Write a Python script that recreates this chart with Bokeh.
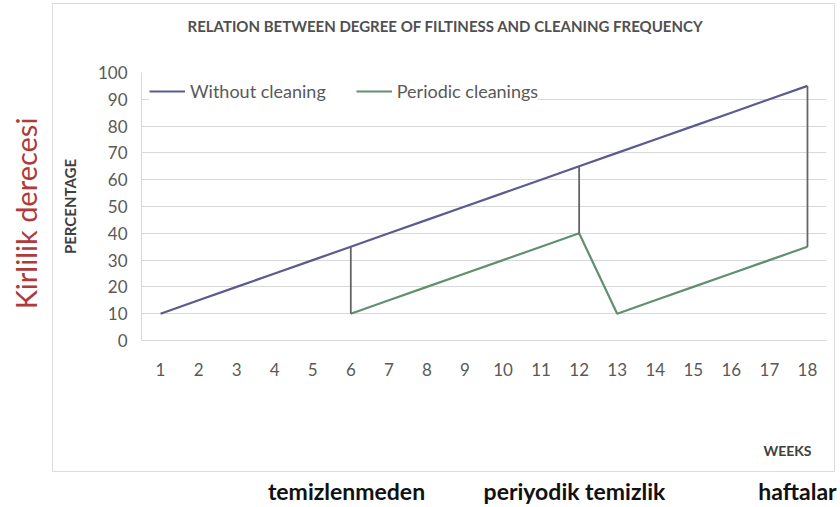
from bokeh.plotting import figure
from bokeh.models import (Range1d, FixedTicker, Legend, LegendItem, LinearAxis,
                          InlineStyleSheet)
from bokeh.embed import file_html
from bokeh.resources import INLINE

# ---- data ----
weeks = [1, 2, 3, 4, 5, 6, 7, 8, 9, 10, 11, 12, 13, 14, 15, 16, 17, 18]
without_cleaning = [10, 15, 20, 25, 30, 35, 40, 45, 50, 55, 60, 65, 70, 75, 80, 85, 90, 95]
periodic_weeks = [6, 7, 8, 9, 10, 11, 12, 13, 14, 15, 16, 17, 18]
periodic_cleanings = [10, 15, 20, 25, 30, 35, 40, 10, 15, 20, 25, 30, 35]
cleaning_weeks = [6, 12, 18]
cleaning_low = [10, 40, 35]
cleaning_high = [35, 65, 95]
y_ticks = [0, 10, 20, 30, 40, 50, 60, 70, 80, 90, 100]
grid_ticks = [0, 10, 20, 30, 40, 50, 60, 70, 80, 90]

title_text = "RELATION BETWEEN DEGREE OF FILTINESS AND CLEANING FREQUENCY"
y_title = "PERCENTAGE"
side_title = "Kirlilik derecesi"
weeks_title = "WEEKS"
turkish_labels = ["temizlenmeden", "periyodik temizlik", "haftalar"]

FONT = "Lato"
GRAY = "#595959"

p = figure(width=840, height=507, x_range=Range1d(0.5, 18.5),
           y_range=Range1d(0, 100), output_backend="svg", toolbar_location=None,
           min_border_left=141, min_border_right=14, min_border_top=72,
           min_border_bottom=167)
p.outline_line_color = None
p.background_fill_color = "white"
p.border_fill_color = "white"
# pixel-like helper ranges used only to place the chart's text annotations
p.extra_x_ranges = {"px": Range1d(141, 826)}
p.extra_y_ranges = {"py": Range1d(340, 72)}

# main axes
p.xaxis.ticker = FixedTicker(ticks=weeks)
p.yaxis.ticker = FixedTicker(ticks=y_ticks)
for ax in (p.xaxis[0], p.yaxis[0]):
    ax.axis_line_color = "#d9d9d9"
    ax.major_tick_line_color = None
    ax.minor_tick_line_color = None
    ax.major_label_text_font = FONT
    ax.major_label_text_font_size = "17px"
    ax.major_label_text_color = GRAY
p.yaxis.major_label_standoff = 8
p.xaxis.major_label_standoff = 16
p.yaxis.axis_label = y_title
p.yaxis.axis_label_standoff = 16
p.yaxis.axis_label_text_font = FONT
p.yaxis.axis_label_text_font_size = "15px"
p.yaxis.axis_label_text_font_style = "bold"
p.yaxis.axis_label_text_color = "#404040"
p.xgrid.grid_line_color = None
p.ygrid.ticker = FixedTicker(ticks=grid_ticks)
p.ygrid.grid_line_color = "#d9d9d9"
p.ygrid.grid_line_width = 1

# lines
r1 = p.line(weeks, without_cleaning, line_color="#5c5a8e", line_width=2.2)
r2 = p.line(periodic_weeks, periodic_cleanings, line_color="#5f9070", line_width=2.2)
p.segment(x0=cleaning_weeks, y0=cleaning_low, x1=cleaning_weeks, y1=cleaning_high,
          line_color="#666666", line_width=1.8)


def text_axis(kind, place, range_name, tick, label, size, color, style, standoff,
              orientation="horizontal"):
    kw = {"x_range_name": range_name} if kind == "x" else {"y_range_name": range_name}
    ax = LinearAxis(ticker=FixedTicker(ticks=list(tick)),
                    major_label_overrides=dict(zip(tick, label)), **kw)
    ax.axis_line_color = None
    ax.major_tick_line_color = None
    ax.minor_tick_line_color = None
    ax.major_label_text_font = FONT
    ax.major_label_text_font_size = size
    ax.major_label_text_color = color
    ax.major_label_text_font_style = style
    ax.major_label_standoff = standoff
    ax.major_label_orientation = orientation
    p.add_layout(ax, place)
    return ax


# title (above)
text_axis("x", "above", "px", [445], [title_text], "15px", "#505050", "bold", 32)
# red side title (left, outside PERCENTAGE)
text_axis("y", "left", "py", [213], [side_title], "29px", "#b03a3a", "normal", 9,
          orientation="vertical")

# bottom rows: WEEKS and Turkish captions
text_axis("x", "below", "px", [787], [weeks_title], "14px", "#404040", "bold", 57)
text_axis("x", "below", "px", [346, 574, 797], turkish_labels, "23px", "#111111",
          "bold", 9)

# legend (inside the plot area, in the empty upper-left region)
legend = Legend(items=[LegendItem(label="Without cleaning", renderers=[r1]),
                       LegendItem(label="Periodic cleanings", renderers=[r2])],
                location="top_left", orientation="horizontal",
                glyph_width=36, glyph_height=20, label_height=20,
                label_standoff=5, spacing=30, padding=4, margin=8,
                border_line_color=None, background_fill_color="white",
                background_fill_alpha=1.0,
                label_text_font=FONT, label_text_font_size="18px",
                label_text_color=GRAY)
p.add_layout(legend, "center")

p.stylesheets = [InlineStyleSheet(css=(
    ":host::after { content: ''; position: absolute; left: 52px; top: 3px; "
    "width: 783px; height: 469px; border: 1.5px solid #dcdcdc; box-sizing: border-box; "
    "pointer-events: none; }"))]

open("out.html", "w").write(file_html(p, INLINE))
